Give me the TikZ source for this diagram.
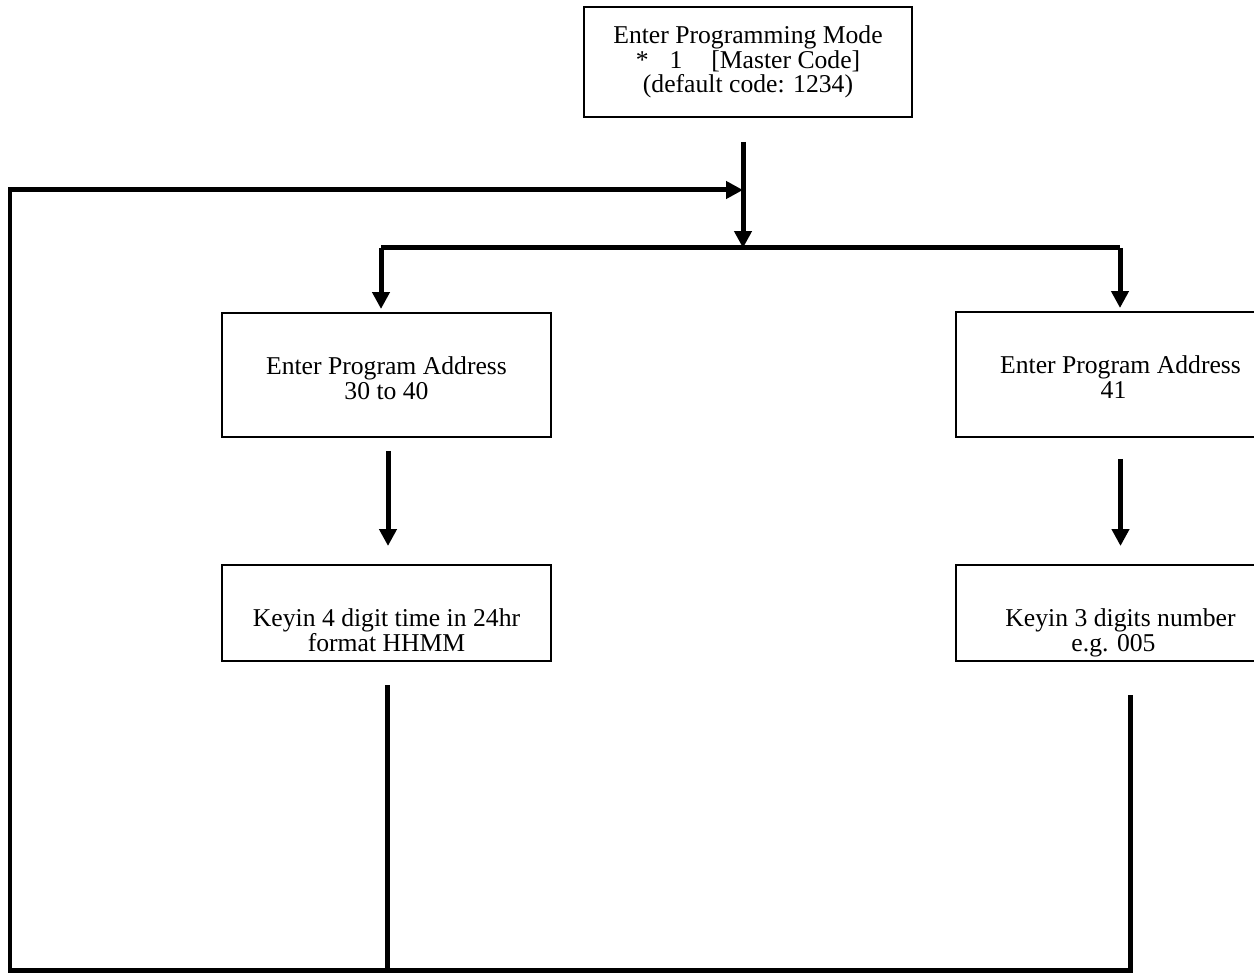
\documentclass[tikz,border=0pt]{standalone}
\usepackage{fontspec}
\setmainfont{Liberation Serif}
\usetikzlibrary{arrows.meta}
\newcommand\pxbox[2]{\parbox[c][\dimexpr 0.02cm*#1\relax][t]{\dimexpr 0.02cm*329\relax}{\centering\vspace*{\dimexpr 0.02cm*44\relax}#2\par}}
\begin{document}
\begin{tikzpicture}[x=0.02cm,y=-0.02cm,
  box/.style={draw,line width=0.04cm,minimum width=329*0.02cm,align=center,inner sep=0pt,
    font=\fontsize{14.6}{14}\selectfont},
  conn/.style={line width=0.1cm,line join=miter},
  arr/.style={conn,-{Triangle[length=0.34cm,width=0.34cm]}}]
\clip (0,0) rectangle (1254,976);
\fill[white] (0,0) rectangle (1254,976);
\node[box,minimum width=328*0.02cm,minimum height=110*0.02cm] (top) at (748,62)
  {Enter Programming Mode\\ *\hspace{0.42cm}1\hspace{0.58cm}[Master Code]\\ (default code: 1234)};
\node[box] (l1) at (386.5,375) {\pxbox{124}{Enter Program Address\\30 to 40}};
\node[box] (l2) at (386.5,613) {\pxbox{96}{Keyin 4 digit time in 24hr\\format HHMM}};
\node[box] (r1) at (1120.5,374.5) {\pxbox{125}{Enter Program Address\hspace*{0.28cm}\\41\hspace*{0.28cm}}};
\node[box] (r2) at (1120.5,613) {\pxbox{96}{Keyin 3 digits number\hspace*{0.28cm}\\e.g. 005\hspace*{0.28cm}}};
\coordinate (ts) at (743,142);
\coordinate (join) at (743,248);
\coordinate (bl) at (381,248);
\coordinate (br) at (1120,248);
\coordinate (merge) at (743,190);
\coordinate (corner) at (10,190);
\coordinate (cbl) at (10,970);
\coordinate (l2d) at (387,685);
\coordinate (l2b) at (387,970);
\coordinate (r2d) at (1130,695);
\coordinate (r2b) at (1130,970);
\draw[arr] (ts) -- (join);
\draw[conn] (bl) -- (br);
\draw[arr] (bl) -- ([yshift=0.06cm]bl |- l1.north);
\draw[arr] (br) -- ([yshift=0.06cm]br |- r1.north);
\draw[arr] ([yshift=-0.26cm]388,0 |- l1.south) -- ([yshift=0.36cm]388,0 |- l2.north);
\draw[arr] ([yshift=-0.42cm]r1.south) -- ([yshift=0.36cm]r2.north);
\draw[conn] (l2d) -- (l2b);
\draw[arr] (r2d) -- (r2b) -- (cbl) -- (corner) -- (merge);
\end{tikzpicture}
\end{document}
